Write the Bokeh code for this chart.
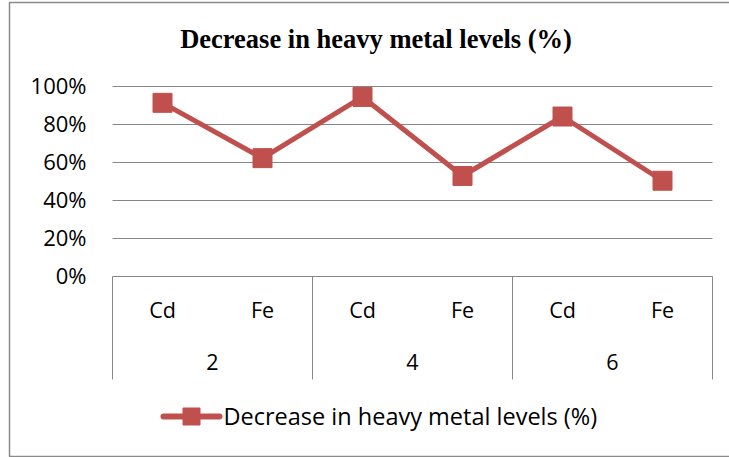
from bokeh.plotting import figure
from bokeh.models import ColumnDataSource, Range1d
from bokeh.core.properties import value
from bokeh.embed import file_html
from bokeh.resources import INLINE

# ---- data -------------------------------------------------------------
groups = ["2", "4", "6"]
metals = ["Cd", "Fe"]
decrease = [0.914, 0.623, 0.945, 0.529, 0.842, 0.504]
y_ticks = [0.0, 0.2, 0.4, 0.6, 0.8, 1.0]
y_tick_labels = ["0%", "20%", "40%", "60%", "80%", "100%"]
chart_title = "Decrease in heavy metal levels (%)"
series_name = "Decrease in heavy metal levels (%)"

# ---- layout helpers (canvas pixels -> data units) ----------------------
W, H = 729, 457
X0, XU = 162.0, 100.0   # centre of first category, pixels per category slot
Y0, YU = 276.0, 190.0   # baseline of 0 %, pixels per 100 %


def dx(px):
    return (px - X0) / XU


def dy(py):
    return (Y0 - py) / YU


RED = "#C0504D"
GRID = "#868686"
FONT = "Open Sans"

p = figure(
    width=W, height=H,
    x_range=Range1d(dx(0), dx(W)), y_range=Range1d(dy(H), dy(0)),
    x_axis_type=None, y_axis_type=None,
    toolbar_location=None, output_backend="svg",
    min_border=0, min_border_left=0, min_border_right=0,
    min_border_top=0, min_border_bottom=0,
    outline_line_color=None,
    background_fill_color="white", border_fill_color="white",
    title=None,
)
p.grid.visible = False

# category positions
n_cat = len(groups) * len(metals)
xs = list(range(n_cat))
cat_labels = [m for g in groups for m in metals]
group_centers = [i * len(metals) + (len(metals) - 1) / 2 for i in range(len(groups))]
left_edge = -0.5
right_edge = n_cat - 0.5

# outer chart border
p.line([dx(745), dx(9), dx(9), dx(745)], [dy(2), dy(2), dy(456), dy(456)],
       line_color="#8a8a8a", line_width=1.5)

# horizontal gridlines
grid_src = ColumnDataSource(dict(
    x0=[left_edge] * len(y_ticks), x1=[right_edge] * len(y_ticks),
    y=y_ticks,
))
p.segment(x0="x0", y0="y", x1="x1", y1="y", source=grid_src,
          line_color=GRID, line_width=1)

# y tick labels
p.text(x=[dx(86)] * len(y_ticks), y=[t + 1.5 / YU for t in y_ticks],
       text=y_tick_labels, text_align="right", text_baseline="middle",
       text_font=value(FONT), text_font_size=value("22px"), text_color="black")

# category box separators (group boundaries)
sep_x = [left_edge + i * len(metals) for i in range(len(groups) + 1)]
p.segment(x0=sep_x, y0=[0.0] * len(sep_x), x1=sep_x, y1=[dy(379)] * len(sep_x),
          line_color=GRID, line_width=1)

# category labels: metals, then time groups
p.text(x=xs, y=[dy(308.5)] * n_cat, text=cat_labels,
       text_align="center", text_baseline="middle",
       text_font=value(FONT), text_font_size=value("21.5px"), text_color="black")
p.text(x=group_centers, y=[dy(361.5)] * len(groups), text=groups,
       text_align="center", text_baseline="middle",
       text_font=value(FONT), text_font_size=value("21.5px"), text_color="black")

# series
p.line(xs, decrease, line_color=RED, line_width=5)
p.scatter(xs, decrease, marker="square", size=19,
          fill_color=RED, line_color=RED, line_width=1)

# legend
p.line([dx(163), dx(219)], [dy(416), dy(416)], line_color=RED, line_width=6,
       line_cap="round")
p.scatter([dx(191)], [dy(416)], marker="square", size=17,
          fill_color=RED, line_color=RED, line_width=1)
p.text(x=[dx(223)], y=[dy(415)], text=[series_name],
       text_align="left", text_baseline="middle",
       text_font=value(FONT), text_font_size=value("23.5px"), text_color="black")

# title
p.text(x=[dx(375.5)], y=[dy(38.5)], text=[chart_title],
       text_align="center", text_baseline="middle",
       text_font=value("Liberation Serif"), text_font_style="bold",
       text_font_size=value("26.5px"), text_color="black")

open("out.html", "w").write(file_html(p, INLINE))
